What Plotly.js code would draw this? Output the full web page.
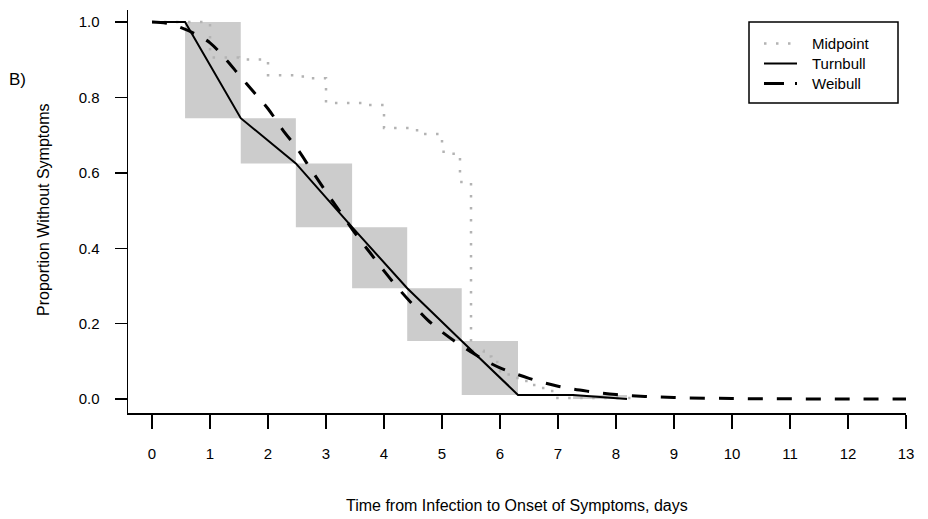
<!DOCTYPE html>
<html>
<head>
<meta charset="utf-8">
<script src="https://cdn.plot.ly/plotly-3.0.1.min.js"></script>
<style>html,body{margin:0;padding:0;background:#fff;}#chart{width:928px;height:519px;}</style>
</head>
<body>
<div id="chart"></div>
<script>
// Censoring intervals (gray boxes)
var boxLeft  = [0.57, 1.53, 2.48, 3.45, 4.40, 5.34, 7.26];
var boxRight = [1.53, 2.48, 3.45, 4.40, 5.34, 6.31, 8.19];
var boxHigh  = [1.000, 0.745, 0.625, 0.456, 0.294, 0.154, 0.011];
var boxLow   = [0.745, 0.625, 0.456, 0.294, 0.154, 0.011, 0.000];

// Turnbull estimate
var turnX = [0, 0.57, 1.53, 2.48, 3.45, 4.40, 5.34, 6.31, 7.26, 8.19];
var turnS = [1.0, 1.0, 0.745, 0.625, 0.456, 0.294, 0.154, 0.011, 0.011, 0.0];

// Midpoint (Kaplan-Meier on interval midpoints), step function
var midX = [0, 1.0, 1.5, 2.0, 2.6, 3.0, 3.65, 4.0, 4.5, 4.65, 5.0, 5.2, 5.31, 5.5, 5.72, 5.85, 6.0, 6.15, 6.3, 6.5, 6.7, 6.9, 8.25];
var midS = [1.0, 0.906, 0.901, 0.859, 0.851, 0.785, 0.780, 0.719, 0.713, 0.703, 0.656, 0.642, 0.576, 0.128, 0.113, 0.098, 0.069, 0.056, 0.048, 0.037, 0.029, 0.003, 0.003];

// Weibull fit
var weibX = [0, 0.25, 0.5, 0.75, 1, 1.25, 1.5, 1.75, 2, 2.25, 2.5, 2.75, 3, 3.25, 3.5, 3.75, 4, 4.25, 4.5, 4.75, 5, 5.25, 5.5, 5.75, 6, 6.5, 7, 7.5, 8, 8.5, 9, 10, 11, 12, 13];
var weibS = [1.0, 0.997, 0.985, 0.968, 0.945, 0.905, 0.86, 0.815, 0.77, 0.715, 0.665, 0.607, 0.55, 0.495, 0.44, 0.39, 0.34, 0.293, 0.25, 0.21, 0.178, 0.15, 0.125, 0.102, 0.083, 0.055, 0.034, 0.021, 0.012, 0.007, 0.004, 0.0015, 0.0005, 0.0002, 0.0001];

var xTicks = [0,1,2,3,4,5,6,7,8,9,10,11,12,13];
var yTicks = [0, 0.2, 0.4, 0.6, 0.8, 1.0];
var legendNames = ['Midpoint', 'Turnbull', 'Weibull'];

// styles
var midLine  = {shape: 'hv', color: '#b3b3b3', width: 2.5, dash: '2.5px,9.5px'};
var turnLine = {color: '#000000', width: 2};
var weibLine = {shape: 'spline', color: '#000000', width: 3, dash: '15px,14px'};

// build box polygons
var bx = [], by = [];
for (var i = 0; i < boxLeft.length; i++) {
  bx.push(boxLeft[i], boxRight[i], boxRight[i], boxLeft[i], boxLeft[i], null);
  by.push(boxLow[i], boxLow[i], boxHigh[i], boxHigh[i], boxLow[i], null);
}

var traces = [
  {x: bx, y: by, type: 'scatter', mode: 'lines', fill: 'toself', fillcolor: '#cccccc',
   line: {width: 0, color: 'rgba(0,0,0,0)'}, hoverinfo: 'skip'},
  {x: midX, y: midS, type: 'scatter', mode: 'lines', name: legendNames[0], line: midLine},
  {x: turnX, y: turnS, type: 'scatter', mode: 'lines', name: legendNames[1], line: turnLine},
  {x: weibX, y: weibS, type: 'scatter', mode: 'lines', name: legendNames[2], line: weibLine}
];

var W = 778, H = 403;
function px(p){ return (p - 128) / W; }
function py(p){ return (413 - p) / H; }

var fam = 'Liberation Sans, Arial, sans-serif';
var tickFont = {family: fam, size: 15, color: '#000'};
var titleFont = {family: fam, size: 16, color: '#000'};

// manual legend (R-style)
var legRows = [43.5, 63.5, 83.5];
var legStyles = [
  {color: '#b3b3b3', width: 2.5, dash: '2.5px,9.5px'},
  {color: '#000', width: 2},
  {color: '#000', width: 3, dash: '20px,11px'}
];
var shapes = [
  {type: 'rect', xref: 'paper', yref: 'paper', x0: px(749), x1: px(898), y0: py(103), y1: py(22),
   line: {color: '#000', width: 1.5}, fillcolor: 'rgba(0,0,0,0)'}
];
var annotations = [
  {text: 'Proportion Without Symptoms', xref: 'paper', yref: 'paper', x: px(43), y: py(210),
   textangle: -90, showarrow: false, xanchor: 'center', yanchor: 'middle', font: titleFont},
  {text: 'Time from Infection to Onset of Symptoms, days', xref: 'paper', yref: 'paper',
   x: px(517), y: py(505), showarrow: false, xanchor: 'center', yanchor: 'middle', font: titleFont},
  {text: 'B)', xref: 'paper', yref: 'paper', x: px(17), y: py(80), showarrow: false,
   xanchor: 'center', yanchor: 'middle', font: {family: fam, size: 17, color: '#000'}}
];
for (var k = 0; k < legendNames.length; k++) {
  shapes.push({type: 'line', xref: 'paper', yref: 'paper', x0: px(764), x1: px(797),
               y0: py(legRows[k]), y1: py(legRows[k]), line: legStyles[k]});
  annotations.push({text: legendNames[k], xref: 'paper', yref: 'paper', x: px(810), y: py(legRows[k]),
                    showarrow: false, xanchor: 'left', yanchor: 'middle', font: tickFont});
}

var layout = {
  width: 928, height: 519,
  margin: {l: 128, r: 22, t: 10, b: 106, pad: 0},
  paper_bgcolor: '#fff', plot_bgcolor: '#fff',
  font: tickFont,
  showlegend: false,
  xaxis: {range: [-0.414, 13], tickvals: xTicks, ticktext: xTicks.map(String),
          showgrid: false, zeroline: false, showline: true, linecolor: '#000', linewidth: 1.5,
          ticks: 'outside', ticklen: 14, tickwidth: 1.3, tickcolor: '#000',
          ticklabelstandoff: 12, tickfont: tickFont, fixedrange: true},
  yaxis: {range: [-0.037, 1.032], tickvals: yTicks, ticktext: yTicks.map(function(v){return v.toFixed(1);}),
          showgrid: false, zeroline: false, showline: true, linecolor: '#000', linewidth: 1.5,
          ticks: 'outside', ticklen: 12, tickwidth: 1.3, tickcolor: '#000',
          ticklabelstandoff: 12, tickfont: tickFont, fixedrange: true},
  shapes: shapes,
  annotations: annotations
};

Plotly.newPlot('chart', traces, layout, {displayModeBar: false, staticPlot: true});
</script>
</body>
</html>
